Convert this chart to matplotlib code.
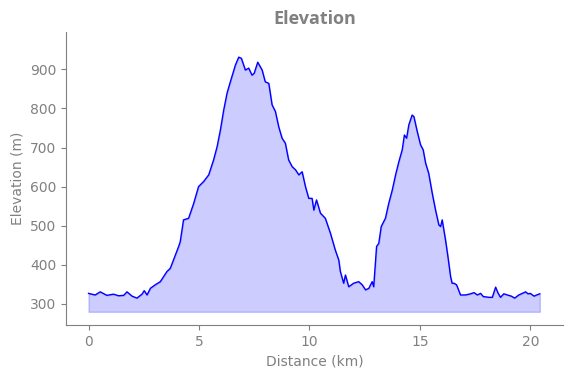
import matplotlib
matplotlib.use("Agg")
import matplotlib.pyplot as plt

# distance (km) and elevation (m)
distance = [0.0, 0.3, 0.53, 0.83, 1.13, 1.36, 1.59, 1.74, 1.97, 2.19, 2.42, 2.52,
            2.65, 2.8, 3.02, 3.25, 3.55, 3.7, 3.93, 4.08, 4.15, 4.3, 4.53, 4.76,
            4.98, 5.21, 5.44, 5.66, 5.82, 5.97, 6.12, 6.27, 6.42, 6.65, 6.8, 6.92,
            7.1, 7.25, 7.4, 7.5, 7.66, 7.86, 8.0, 8.16, 8.31, 8.46, 8.61, 8.76,
            8.91, 9.06, 9.22, 9.37, 9.52, 9.67, 9.82, 9.97, 10.12, 10.2, 10.32,
            10.5, 10.72, 10.95, 11.17, 11.33, 11.4, 11.55, 11.63, 11.78, 12.0,
            12.23, 12.39, 12.54, 12.69, 12.84, 12.91, 13.04, 13.14, 13.25, 13.44,
            13.59, 13.75, 13.9, 14.05, 14.2, 14.3, 14.4, 14.5, 14.65, 14.73,
            14.88, 15.03, 15.15, 15.26, 15.4, 15.56, 15.71, 15.86, 15.94, 16.01,
            16.16, 16.27, 16.39, 16.46, 16.54, 16.66, 16.84, 17.07, 17.3, 17.45,
            17.6, 17.75, 17.87, 18.12, 18.28, 18.43, 18.53, 18.65, 18.8, 18.96,
            19.14, 19.29, 19.48, 19.64, 19.79, 19.89, 20.0, 20.17, 20.29, 20.43]
elevation = [327, 323, 331, 322, 325, 321, 322, 331, 320, 315, 325, 334,
             323, 340, 349, 357, 383, 391, 425, 447, 459, 515, 519, 557,
             600, 613, 630, 668, 702, 745, 796, 839, 868, 911, 931, 928,
             898, 903, 885, 890, 918, 898, 868, 864, 809, 792, 753, 724,
             711, 668, 651, 643, 630, 638, 600, 570, 570, 540, 566,
             532, 519, 481, 438, 412, 383, 353, 374, 344, 353,
             357, 349, 336, 340, 357, 344, 447, 455, 498, 519,
             557, 591, 630, 664, 694, 732, 724, 758, 783, 779,
             741, 707, 694, 660, 634, 583, 540, 502, 498, 515,
             464, 421, 370, 353, 353, 349, 323, 323, 326, 329,
             323, 327, 319, 317, 317, 343, 329, 317, 326, 323,
             320, 315, 323, 327, 331, 326, 327, 320, 323, 326]
fill_base = 280

grey = "#808080"

fig = plt.figure(figsize=(5.71, 3.78), dpi=100)
ax = fig.add_axes([0.1156, 0.140, 0.870, 0.775])

ax.plot(distance, elevation, color="blue", linewidth=1)
ax.fill_between(distance, elevation, fill_base, color="blue", alpha=0.2)

ax.set_xlim(-1.02, 21.47)
ax.set_ylim(246, 995)
ax.set_xticks([0, 5, 10, 15, 20])
ax.set_yticks([300, 400, 500, 600, 700, 800, 900])

ax.set_title("Elevation", color=grey, fontsize=13, fontweight="bold",
             family="Open Sans", pad=6)
ax.set_xlabel("Distance (km)", color=grey, fontsize=10)
ax.set_ylabel("Elevation (m)", color=grey, fontsize=10)

ax.spines["top"].set_visible(False)
ax.spines["right"].set_visible(False)
ax.spines["left"].set_color(grey)
ax.spines["bottom"].set_color(grey)
ax.tick_params(colors=grey, labelsize=10)

fig.savefig("out.png", dpi=100)
